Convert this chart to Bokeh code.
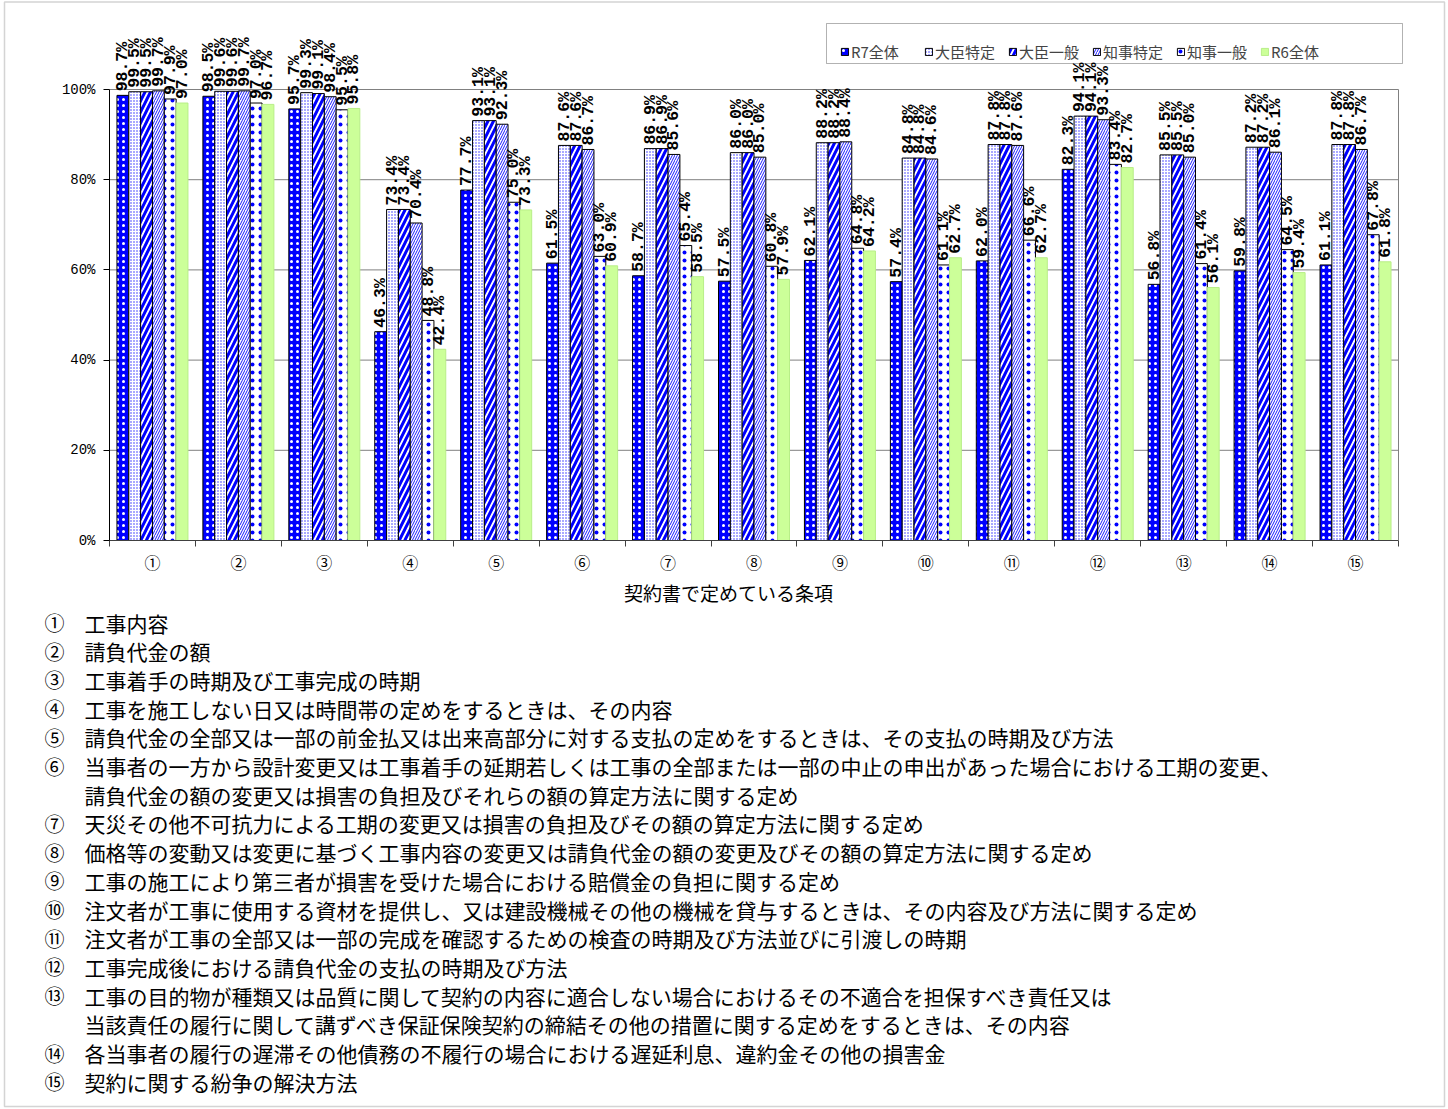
import numpy as np
from bokeh.plotting import figure
from bokeh.models import (ColumnDataSource, FixedTicker, LabelSet, Legend, LegendItem,
                          LinearAxis, PolyAnnotation, Range1d)
from bokeh.core.properties import value
from bokeh.embed import file_html
from bokeh.resources import INLINE

# --- data -------------------------------------------------------------------
categories = ["①", "②", "③", "④", "⑤", "⑥", "⑦", "⑧", "⑨", "⑩", "⑪", "⑫", "⑬", "⑭", "⑮"]
series_names = ["R7全体", "大臣特定", "大臣一般", "知事特定", "知事一般", "R6全体"]

r7_total = [98.7, 98.5, 95.7, 46.3, 77.7, 61.5, 58.7, 57.5, 62.1, 57.4, 62.0, 82.3, 56.8, 59.8, 61.1]
minister_specific = [99.5, 99.6, 99.3, 73.4, 93.1, 87.6, 86.9, 86.0, 88.2, 84.8, 87.8, 94.1, 85.5, 87.2, 87.8]
minister_general = [99.5, 99.6, 99.1, 73.4, 93.1, 87.6, 86.9, 86.0, 88.2, 84.8, 87.8, 94.1, 85.5, 87.2, 87.8]
governor_specific = [99.7, 99.7, 98.4, 70.4, 92.3, 86.7, 85.6, 85.0, 88.4, 84.6, 87.6, 93.3, 85.0, 86.1, 86.7]
governor_general = [97.9, 97.0, 95.5, 48.8, 75.0, 63.0, 65.4, 60.8, 64.8, 61.1, 66.6, 83.4, 61.4, 64.5, 67.8]
r6_total = [97.0, 96.7, 95.8, 42.4, 73.3, 60.9, 58.5, 57.9, 64.2, 62.7, 62.7, 82.7, 56.1, 59.4, 61.8]

y_ticks = [0, 20, 40, 60, 80, 100]
x_title = "契約書で定めている条項"

note_numbers = ["①", "②", "③", "④", "⑤", "⑥", "", "⑦", "⑧", "⑨", "⑩", "⑪", "⑫", "⑬", "", "⑭", "⑮"]
note_texts = [
    "工事内容",
    "請負代金の額",
    "工事着手の時期及び工事完成の時期",
    "工事を施工しない日又は時間帯の定めをするときは、その内容",
    "請負代金の全部又は一部の前金払又は出来高部分に対する支払の定めをするときは、その支払の時期及び方法",
    "当事者の一方から設計変更又は工事着手の延期若しくは工事の全部または一部の中止の申出があった場合における工期の変更、",
    "請負代金の額の変更又は損害の負担及びそれらの額の算定方法に関する定め",
    "天災その他不可抗力による工期の変更又は損害の負担及びその額の算定方法に関する定め",
    "価格等の変動又は変更に基づく工事内容の変更又は請負代金の額の変更及びその額の算定方法に関する定め",
    "工事の施工により第三者が損害を受けた場合における賠償金の負担に関する定め",
    "注文者が工事に使用する資材を提供し、又は建設機械その他の機械を貸与するときは、その内容及び方法に関する定め",
    "注文者が工事の全部又は一部の完成を確認するための検査の時期及び方法並びに引渡しの時期",
    "工事完成後における請負代金の支払の時期及び方法",
    "工事の目的物が種類又は品質に関して契約の内容に適合しない場合におけるその不適合を担保すべき責任又は",
    "当該責任の履行に関して講ずべき保証保険契約の締結その他の措置に関する定めをするときは、その内容",
    "各当事者の履行の遅滞その他債務の不履行の場合における遅延利息、違約金その他の損害金",
    "契約に関する紛争の解決方法",
]

series_values = [r7_total, minister_specific, minister_general,
                 governor_specific, governor_general, r6_total]

# --- page geometry (pixels) ---------------------------------------------------
W, H = 1448, 1109
FL, FR, FB = 109, 1398, 540     # plot area left / right / baseline
PX_PER_PCT = 4.51               # 100 % spans 451 px
N = len(categories)


def dx(px):
    return 0.5 + (px - FL) * N / (FR - FL)


def dy(py):
    return (FB - py) / PX_PER_PCT


# the frame covers the whole page; axes sit at fixed data positions inside it
p = figure(width=W, height=H,
           x_range=Range1d(dx(0), dx(W)), y_range=Range1d(dy(H), dy(0)),
           output_backend="svg", toolbar_location=None, min_border=0,
           x_axis_type=None, y_axis_type=None)
p.background_fill_color = "white"
p.border_fill_color = "white"
p.outline_line_color = None
p.grid.grid_line_color = None

# horizontal gridlines across the plot area only
p.segment(x0=[0.5] * len(y_ticks), x1=[N + 0.5] * len(y_ticks), y0=y_ticks, y1=y_ticks,
          line_color="#808080", line_width=1)

# --- bars -------------------------------------------------------------------
styles = [
    dict(fill_color="#0000FF", hatch_pattern="dot", hatch_color="white", hatch_scale=6, hatch_weight=1.6, line_color="black"),
    dict(fill_color="white", hatch_pattern="dot", hatch_color="#2828FF", hatch_scale=3, hatch_weight=1.2, line_color="black"),
    dict(fill_color="white", hatch_pattern="right_diagonal_line", hatch_color="#0000FF", hatch_scale=11, hatch_weight=3.0, line_color="black"),
    dict(fill_color="white", hatch_pattern="right_diagonal_line", hatch_color="#0000FF", hatch_scale=5, hatch_weight=0.9, line_color="black"),
    dict(fill_color="white", hatch_pattern="dot", hatch_color="#0000FF", hatch_scale=8, hatch_weight=1.6, line_color="black"),
    dict(fill_color="#CCFF99", line_color="#B8EE88"),
]

bar_w = 71.0 / 6 * N / (FR - FL)
centers = np.arange(1, N + 1)
renderers = []
for k, (vals, st) in enumerate(zip(series_values, styles)):
    xs = centers + (k - 2.5) * bar_w
    src = ColumnDataSource(dict(x=xs, top=vals, label=[f"{v:.1f}%" for v in vals]))
    r = p.vbar(x="x", top="top", bottom=0, width=bar_w, source=src, line_width=1, **st)
    renderers.append(r)
    p.add_layout(LabelSet(x="x", y="top", text="label", source=src, angle=np.pi / 2,
                          text_align="left", text_baseline="middle", y_offset=4,
                          text_font=value("Liberation Mono"), text_font_style="bold",
                          text_font_size="16.5px", text_color="black"))

# --- axes -------------------------------------------------------------------
xa = LinearAxis(fixed_location=0, bounds=(0.5, N + 0.5),
                ticker=FixedTicker(ticks=list(centers), minor_ticks=[c + 0.5 for c in range(0, N + 1)]),
                major_label_overrides={int(c): lab for c, lab in zip(centers, categories)},
                major_tick_line_color=None, major_tick_out=0, major_tick_in=0,
                minor_tick_in=0, minor_tick_out=6, minor_tick_line_color="#404040",
                axis_line_color="#404040", major_label_standoff=3,
                major_label_text_font="Noto Sans CJK JP", major_label_text_font_size="16px",
                major_label_text_color="black")
p.add_layout(xa, "below")

ya = LinearAxis(fixed_location=0.5, bounds=(0, 100), ticker=FixedTicker(ticks=y_ticks),
                major_label_overrides={t: f"{t}%" for t in y_ticks},
                minor_tick_line_color=None, major_tick_in=0, major_tick_out=6,
                major_label_standoff=8, axis_line_color="black",
                major_label_text_font="Liberation Mono", major_label_text_font_size="14px",
                major_label_text_color="black")
p.add_layout(ya, "left")

# right-hand edge of the plot area
ra = LinearAxis(fixed_location=N + 0.5, bounds=(0, 100), ticker=FixedTicker(ticks=[]),
                axis_line_color="#808080", major_tick_line_color=None,
                minor_tick_line_color=None, major_label_text_font_size="0px")
p.add_layout(ra, "right")

# x axis title
p.text(x=[dx(728)], y=[dy(592)], text=[x_title], text_align="center", text_baseline="middle",
       text_font=value("Noto Sans CJK JP"), text_font_size="19px", text_color="black")

# --- legend -----------------------------------------------------------------
legend = Legend(items=[LegendItem(label=n, renderers=[r]) for n, r in zip(series_names, renderers)],
                orientation="horizontal", location=(845 - 5, H - 62),
                padding=5, margin=0, spacing=13, label_standoff=2,
                glyph_width=9, glyph_height=9, label_width=60, label_height=20,
                label_text_font="Noto Sans CJK JP", label_text_font_size="15px",
                border_line_color=None, background_fill_alpha=0)
p.add_layout(legend)
p.add_layout(PolyAnnotation(xs=[dx(826), dx(1402), dx(1402), dx(826)],
                            ys=[dy(23), dy(23), dy(63), dy(63)],
                            fill_alpha=0, line_color="black", line_width=1))

# --- notes below the chart ----------------------------------------------------------
note_y = [dy(622 + i * 28.7) for i in range(len(note_texts))]
p.text(x=[dx(44)] * len(note_numbers), y=note_y, text=note_numbers, text_align="left",
       text_baseline="middle", text_font=value("Noto Sans CJK JP"),
       text_font_size="20px", text_color="black")
p.text(x=[dx(84)] * len(note_texts), y=note_y, text=note_texts, text_align="left",
       text_baseline="middle", text_font=value("Noto Sans CJK JP"),
       text_font_size="21px", text_color="black")

# --- page border ------------------------------------------------------------------
p.add_layout(PolyAnnotation(xs=[dx(4), dx(1444), dx(1444), dx(4)],
                            ys=[dy(1.5), dy(1.5), dy(1106), dy(1106)],
                            fill_alpha=0, line_color="#707070", line_width=1.5))

open("out.html", "w").write(file_html(p, INLINE))
